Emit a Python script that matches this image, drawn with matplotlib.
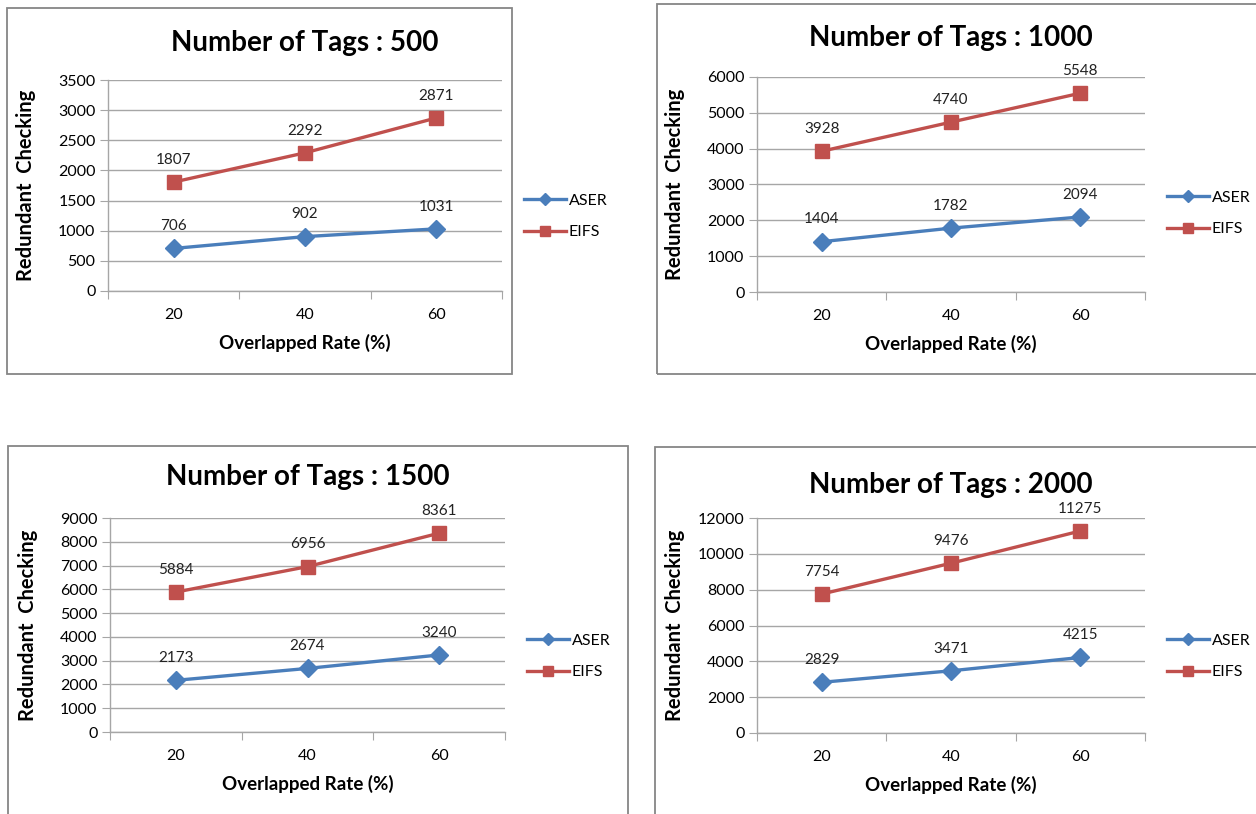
import matplotlib
matplotlib.use('Agg')
import matplotlib.pyplot as plt
from matplotlib.patches import Rectangle

plt.rcParams['font.family'] = ['Lato', 'DejaVu Sans']

rates = ['20', '40', '60']
tags = [500, 1000, 1500, 2000]
aser = [
    [706, 902, 1031],
    [1404, 1782, 2094],
    [2173, 2674, 3240],
    [2829, 3471, 4215],
]
eifs = [
    [1807, 2292, 2871],
    [3928, 4740, 5548],
    [5884, 6956, 8361],
    [7754, 9476, 11275],
]
y_max = [3500, 6000, 9000, 12000]
y_step = [500, 1000, 1000, 2000]

W, H = 1256, 814
# axes boxes in pixels: left, top, right, bottom
axes_px = [(108, 80, 502, 291), (757, 77, 1145, 292),
           (110, 518, 505, 732), (757, 518, 1145, 733)]
frames_px = [(7, 8, 512, 374), (657, 4, 1262, 374),
             (8, 446, 628, 820), (655, 447, 1262, 820)]
title_pad = [21, 22, 24, 18]

blue = '#4A7EBB'
red = '#C0504D'
grid_c = '#A6A6A6'

fig = plt.figure(figsize=(W / 100, H / 100), dpi=100)

for fx0, fy0, fx1, fy1 in frames_px:
    fig.patches.append(Rectangle((fx0 / W, 1 - fy1 / H), (fx1 - fx0) / W, (fy1 - fy0) / H,
                                 transform=fig.transFigure, fill=False,
                                 edgecolor='#868686', linewidth=1.3))

for i in range(4):
    x0, y0, x1, y1 = axes_px[i]
    ax = fig.add_axes([x0 / W, 1 - y1 / H, (x1 - x0) / W, (y1 - y0) / H])
    xs = [0.5, 1.5, 2.5]
    ax.plot(xs, aser[i], color=blue, lw=2.4, marker='D', markersize=9, label='ASER', zorder=3)
    ax.plot(xs, eifs[i], color=red, lw=2.4, marker='s', markersize=10, label='EIFS', zorder=3)
    for x, v in zip(xs, aser[i]):
        ax.annotate(str(v), (x, v), xytext=(0, 11), textcoords='offset points',
                    ha='center', va='bottom', fontsize=11, color='#222222')
    for x, v in zip(xs, eifs[i]):
        ax.annotate(str(v), (x, v), xytext=(0, 11), textcoords='offset points',
                    ha='center', va='bottom', fontsize=11, color='#222222')

    ax.set_xlim(0, 3)
    ax.set_ylim(0, y_max[i])
    ax.set_yticks(range(0, y_max[i] + 1, y_step[i]))
    ax.set_xticks([0, 1, 2, 3])
    ax.set_xticklabels([])
    ax.set_xticks(xs, minor=True)
    ax.set_xticklabels(rates, minor=True)
    ax.tick_params(axis='x', which='major', length=6, color=grid_c, direction='out')
    ax.tick_params(axis='x', which='minor', length=0, pad=12, labelsize=11.5)
    ax.tick_params(axis='y', length=6, color=grid_c, labelsize=11.5, pad=3)
    ax.grid(axis='y', color=grid_c, linewidth=1.0)
    ax.set_axisbelow(True)
    for s in ['top', 'right']:
        ax.spines[s].set_visible(False)
    for s in ['left', 'bottom']:
        ax.spines[s].set_color(grid_c)
        ax.spines[s].set_linewidth(1.0)

    ax.set_title(f'Number of Tags : {tags[i]}', fontsize=20, fontweight='bold', pad=title_pad[i])
    ax.set_xlabel('Overlapped Rate (%)', fontsize=13.5, fontweight='bold', labelpad=9)
    ax.set_ylabel('Redundant  Checking', fontsize=14.5, fontweight='bold')
    ax.yaxis.set_label_coords(-72 / (x1 - x0), 0.5)

    leg_cy = 216.5 + (y0 - axes_px[0][1]) if i < 2 else 656.5
    ax.legend(loc='center left', bbox_to_anchor=(1 + 22 / (x1 - x0), (y1 - leg_cy) / (y1 - y0)),
              frameon=False, fontsize=11.5, handlelength=2.6, handletextpad=0.2,
              labelspacing=1.1, borderpad=0, borderaxespad=0, markerscale=0.7)

fig.savefig('out.png', dpi=100)
